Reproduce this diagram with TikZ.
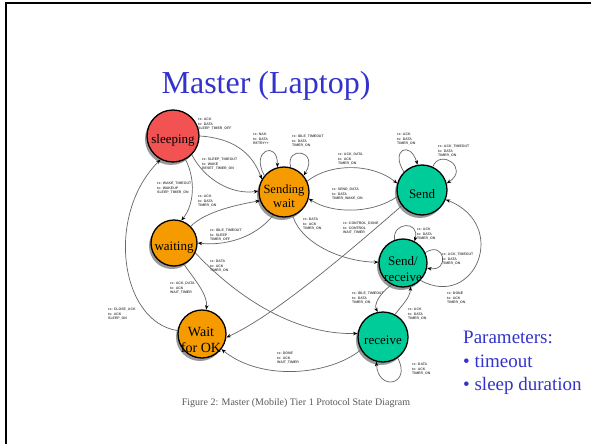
\documentclass[tikz,border=0pt]{standalone}
\usepackage{fontspec}
\setmainfont{Liberation Serif}
\setsansfont{Liberation Sans}
\usetikzlibrary{arrows.meta,shadows}
\definecolor{slideblue}{RGB}{51,51,204}
\definecolor{stred}{RGB}{242,82,82}
\definecolor{storange}{RGB}{245,155,0}
\definecolor{stgreen}{RGB}{0,204,153}
\begin{document}
\begin{tikzpicture}[x=1pt,y=-1pt,
  state/.style={circle, draw=black, line width=1.3pt, inner sep=0pt,
    drop shadow={shadow xshift=-2pt, shadow yshift=-3pt, fill=black!40, opacity=1}},
  stxt/.style={inner sep=0pt, align=center, font=\fontsize{13}{14}\selectfont},
  tr/.style={draw=black!60, line width=0.7pt, -{Stealth[length=4.5pt,width=3.5pt,black]}},
  lab/.style={font=\fontsize{3.5}{4.6}\selectfont\sffamily\bfseries, text=black!70,
    align=left, inner sep=0pt, anchor=north west},
  frameline/.style={draw=black, line width=2pt},
]
\useasboundingbox (0,0) rectangle (591,444);
\fill[white] (0,0) rectangle (591,444);
% slide frame
\coordinate (fbl) at (6,444);
\coordinate (ftl) at (6,3);
\coordinate (ftr) at (591,3);
\draw[frameline] (fbl) -- (ftl) -- (ftr);

% title
\node[anchor=base, text=slideblue, font=\fontsize{32}{36}\selectfont, inner sep=0pt] (title) at (266,93) {Master (Laptop)};

% states
\node[state, fill=stred, minimum size=52pt] (sl) at (173,136) {};
\node[state, fill=storange, minimum size=50pt] (sw) at (284,192) {};
\node[state, fill=storange, minimum size=46pt] (wa) at (174,243) {};
\node[state, fill=storange, minimum size=48pt] (wo) at (202,334) {};
\node[state, fill=stgreen, minimum size=50pt] (se) at (422,190) {};
\node[state, fill=stgreen, minimum size=48pt] (sr) at (403,263) {};
\node[state, fill=stgreen, minimum size=50pt] (re) at (383,337) {};

\node[stxt] (slt) at (173,140) {sleeping};
\node[stxt, font=\fontsize{12.5}{14}\selectfont] (swt) at (284,196) {Sending\\wait};
\node[stxt] (wat) at (174,248) {waiting};
\node[stxt, font=\fontsize{14}{15.5}\selectfont] (wot) at (201,340) {Wait\\for OK};
\node[stxt] (set) at (422,194) {Send};
\node[stxt, font=\fontsize{13}{16}\selectfont] (srt) at (403,269) {Send/\\receive};
\node[stxt] (ret) at (383,340) {receive};

% transitions
\draw[tr] (sl.0) .. controls (232,138) and (252,152) .. (sw.150);
\draw[tr] (sl.-45) .. controls (205,180) and (232,195) .. (sw.178);
\draw[tr] (sl.-62) .. controls (196,180) and (194,205) .. (wa.72);
\draw[tr] (wa.45) .. controls (205,212) and (235,205) .. (sw.200);
\draw[tr] (sw.-115) .. controls (255,238) and (225,246) .. (wa.0);
\draw[tr] (sw.140) .. controls (250,150) and (278,140) .. (sw.105);
\draw[tr] (sw.75) .. controls (285,145) and (320,150) .. (sw.40);
\draw[tr] (sw.25) .. controls (330,163) and (372,163) .. (se.165);
\draw[tr] (se.195) .. controls (372,214) and (332,214) .. (sw.-15);
\draw[tr] (se.135) .. controls (390,150) and (410,140) .. (se.100);
\draw[tr] (se.65) .. controls (440,148) and (470,168) .. (se.15);
\draw[tr] (sr.-45) .. controls (475,310) and (510,225) .. (se.-22);
\draw[tr] (se.218) .. controls (345,255) and (275,315) .. (wo.-8);
\draw[tr] (sw.-70) .. controls (302,245) and (345,262) .. (sr.178);
\draw[tr] (wa.-25) .. controls (232,292) and (290,335) .. (re.172);
\draw[tr] (wa.-65) .. controls (195,280) and (208,295) .. (wo.80);
\draw[tr] (wo.172) .. controls (120,322) and (105,215) .. (sl.-118);
\draw[tr] (re.-150) .. controls (330,375) and (262,382) .. (wo.-38);
\draw[tr] (sr.-118) .. controls (378,295) and (374,305) .. (re.102);
\draw[tr] (re.62) .. controls (402,305) and (410,298) .. (sr.-72);
\draw[tr] (sr.110) .. controls (392,222) and (420,220) .. (sr.62);
\draw[tr] (sr.25) .. controls (445,240) and (450,272) .. (sr.-12);
\draw[tr] (re.-55) .. controls (412,385) and (378,392) .. (re.-105);

% transition labels
\node[lab] (l1) at (198,118) {rx: ACK\\tx: DATA\\SLEEP\_TIMER\_OFF};
\node[lab] (l2) at (202,158) {rx: SLEEP\_TIMEOUT\\tx: WAKE\\RESET\_TIMER\_ON};
\node[lab] (l3) at (157,182) {rx: WAKE\_TIMEOUT\\tx: WAKEUP\\SLEEP\_TIMER\_ON};
\node[lab] (l4) at (198,195) {rx: ACK\\tx: DATA\\TIMER\_ON};
\node[lab] (l5) at (210,229) {rx: IDLE\_TIMEOUT\\tx: SLEEP\\TIMER\_OFF};
\node[lab] (l6) at (253,133) {rx: NAK\\tx: DATA\\RETRY++};
\node[lab] (l7) at (292,135) {rx: IDLE\_TIMEOUT\\tx: DATA\\TIMER\_ON};
\node[lab] (l8) at (338,153) {rx: ACK\_DATA\\tx: ACK\\TIMER\_ON};
\node[lab] (l9) at (332,188) {rx: SEND\_DATA\\tx: DATA\\TIMER\_WAKE\_ON};
\node[lab] (l10) at (397,133) {rx: ACK\\tx: DATA\\TIMER\_ON};
\node[lab] (l11) at (438,145) {rx: ACK\_TIMEOUT\\tx: DATA\\TIMER\_ON};
\node[lab] (l12) at (343,222) {rx: CONTROL\_DONE\\tx: CONTROL\\WAIT\_TIMER};
\node[lab] (l13) at (303,218) {rx: DATA\\tx: ACK\\TIMER\_ON};
\node[lab] (l14) at (417,228) {rx: ACK\\tx: DATA\\TIMER\_ON};
\node[lab] (l15) at (442,253) {rx: ACK\_TIMEOUT\\tx: DATA\\TIMER\_ON};
\node[lab] (l16) at (447,292) {rx: DONE\\tx: ACK\\TIMER\_ON};
\node[lab] (l17) at (352,292) {rx: IDLE\_TIMEOUT\\tx: DATA\\TIMER\_ON};
\node[lab] (l18) at (408,308) {rx: ACK\\tx: DATA\\TIMER\_ON};
\node[lab] (l19) at (412,363) {rx: DATA\\tx: ACK\\TIMER\_ON};
\node[lab] (l20) at (210,260) {rx: DATA\\tx: ACK\\TIMER\_ON};
\node[lab] (l21) at (170,282) {rx: ACK\_DATA\\tx: ACK\\WAIT\_TIMER};
\node[lab] (l22) at (108,308) {rx: CLOSE\_ACK\\tx: ACK\\SLEEP\_ON};
\node[lab] (l23) at (277,352) {rx: DONE\\tx: ACK\\WAIT\_TIMER};

% caption
\node[anchor=base, inner sep=0pt, text=black!65, font=\fontsize{10}{12}\selectfont] (cap) at (296,405) {Figure 2: Master (Mobile) Tier 1 Protocol State Diagram};

% parameters
\node[anchor=base west, inner sep=0pt, text=slideblue, font=\fontsize{19}{23}\selectfont] (p0) at (463,343) {Parameters:};
\node[anchor=base west, inner sep=0pt, text=slideblue, font=\fontsize{19}{23}\selectfont] (p1) at (463,367) {\textbullet\ timeout};
\node[anchor=base west, inner sep=0pt, text=slideblue, font=\fontsize{19}{23}\selectfont] (p2) at (463,390) {\textbullet\ sleep duration};
\end{tikzpicture}
\end{document}
